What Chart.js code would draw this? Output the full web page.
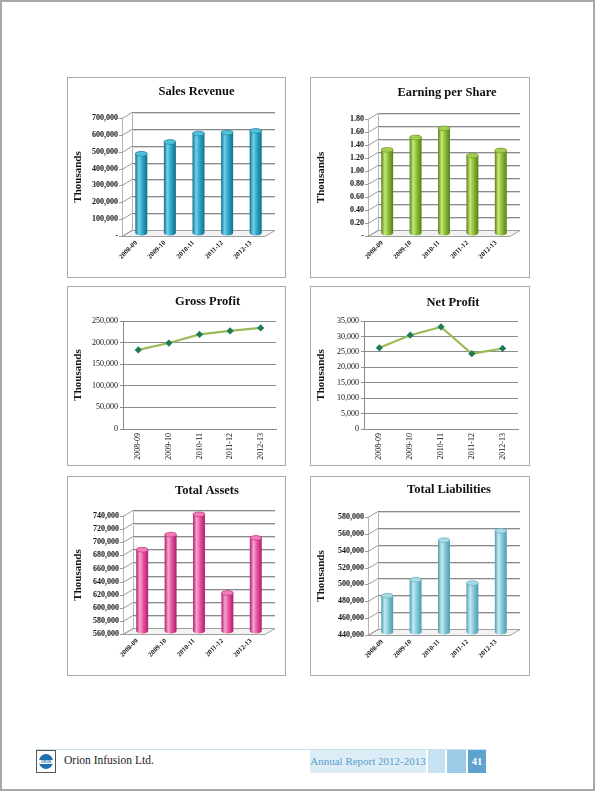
<!DOCTYPE html>
<html>
<head>
<meta charset="utf-8">
<script src="https://cdn.jsdelivr.net/npm/chart.js@4.4.1/dist/chart.umd.min.js"></script>
<style>
  html, body { margin: 0; padding: 0; background: #fff; }
  body { width: 595px; height: 791px; position: relative; overflow: hidden; font-family: 'Liberation Serif', 'DejaVu Serif', serif; }
  .page { position: absolute; left: 0; top: 0; width: 595px; height: 791px; box-sizing: border-box; border: 2px solid #a8a8a8; }
  .panel { position: absolute; box-sizing: border-box; border: 1px solid #a9a9a9; background: #fff; }
  .panel canvas { display: block; }
  .rule { position: absolute; left: 36px; top: 749px; width: 450px; height: 1px; background: #c7e1ef; }
  .logo { position: absolute; left: 36px; top: 750px; width: 20px; height: 23px; box-sizing: border-box; border: 1px solid #555; background: #fff; }
  .logo .disc { position: absolute; left: 2px; top: 3px; width: 14px; height: 15px; border-radius: 50%; background: #1d6fad; overflow: hidden; }
  .logo .band { position: absolute; left: 0; top: 5.5px; width: 14px; height: 4px; background: #fff; color: #1d6fad; font: bold 3px 'Liberation Sans', sans-serif; text-align: center; line-height: 4px; }
  .company { position: absolute; left: 64px; top: 754px; font-size: 11.5px; color: #222; white-space: nowrap; }
  .report { position: absolute; left: 310px; top: 750px; width: 116px; height: 23px; background: #dcedf7; color: #5a9ccb; font-size: 11px; line-height: 23px; text-align: center; white-space: nowrap; }
  .sq1 { position: absolute; left: 428px; top: 750px; width: 17px; height: 23px; background: #c6e1f1; }
  .sq2 { position: absolute; left: 447px; top: 750px; width: 19px; height: 23px; background: #9dcbe6; }
  .pageno { position: absolute; left: 468px; top: 750px; width: 18px; height: 23px; background: #5ea3cf; color: #fff; font-weight: bold; font-size: 10.5px; line-height: 23px; text-align: center; }
</style>
</head>
<body>
<div class="page"></div>

<div class="panel" id="p-sales"><canvas id="sales"></canvas></div>
<div class="panel" id="p-eps"><canvas id="eps"></canvas></div>
<div class="panel" id="p-gross"><canvas id="gross"></canvas></div>
<div class="panel" id="p-net"><canvas id="net"></canvas></div>
<div class="panel" id="p-assets"><canvas id="assets"></canvas></div>
<div class="panel" id="p-liab"><canvas id="liab"></canvas></div>

<div class="rule"></div>
<div class="logo"><div class="disc"><div class="band">ORION</div></div></div>
<div class="company">Orion Infusion Ltd.</div>
<div class="report">Annual Report 2012-2013</div>
<div class="sq1"></div>
<div class="sq2"></div>
<div class="pageno">41</div>

<script>
// data (values in thousands, EPS in taka)
const years = ['2008-09', '2009-10', '2010-11', '2011-12', '2012-13'];

const salesRevenue = [470000, 540000, 590000, 596000, 606000];
const earningPerShare = [1.28, 1.47, 1.61, 1.19, 1.27];
const grossProfit = [183000, 199000, 219000, 227000, 234000];
const netProfit = [26300, 30400, 33100, 24400, 26100];
const totalAssets = [684000, 707000, 738000, 618000, 702000];
const totalLiabilities = [483000, 502000, 549000, 498000, 560000];

// axis ranges [min, max, step]
const salesAxis = [0, 700000, 100000];
const epsAxis = [0, 1.8, 0.2];
const grossAxis = [0, 250000, 50000];
const netAxis = [0, 35000, 5000];
const assetsAxis = [560000, 740000, 20000];
const liabAxis = [440000, 580000, 20000];

const SERIF = "'Liberation Serif', 'DejaVu Serif', serif";
const GRID = '#8a8a8a';

const fmtThousands = v => v === 0 ? '-' : Number(v).toLocaleString('en-US');
const fmtDash2 = v => Math.abs(v) < 1e-9 ? '-' : Number(v).toFixed(2);
const fmtPlain = v => Number(v).toLocaleString('en-US');

// nudge the title sideways (the report centres it a little right of the plot)
const titleShift = {
  id: 'titleShift',
  afterLayout(chart, args, opts) {
    const t = chart.titleBlock;
    if (t && opts && opts.dx) { t.left += opts.dx; t.right += opts.dx; }
  }
};

// fake 3D walls + cylinder bars
const box3d = {
  id: 'box3d',
  beforeDatasetsDraw(chart, args, opts) {
    if (!opts || !opts.on) return;
    const { ctx, chartArea: a, scales: { y } } = chart;
    const dx = opts.dx, dy = opts.dy;
    ctx.save();
    ctx.lineWidth = 1;
    // floor
    ctx.beginPath();
    ctx.moveTo(a.left, a.bottom + 0.5);
    ctx.lineTo(a.right, a.bottom + 0.5);
    ctx.lineTo(a.right + dx, a.bottom + dy + 0.5);
    ctx.lineTo(a.left + dx, a.bottom + dy + 0.5);
    ctx.closePath();
    ctx.fillStyle = '#f2f2f2';
    ctx.fill();
    ctx.strokeStyle = '#a0a0a0';
    ctx.stroke();
    // left wall edges
    ctx.beginPath();
    ctx.moveTo(a.left + 0.5, a.top);
    ctx.lineTo(a.left + 0.5, a.bottom);
    ctx.moveTo(a.left + dx + 0.5, a.top + dy);
    ctx.lineTo(a.left + dx + 0.5, a.bottom + dy);
    ctx.strokeStyle = '#b5b5b5';
    ctx.stroke();
    // grid lines on the back wall
    y.ticks.forEach(t => {
      const py = Math.round(y.getPixelForValue(t.value)) + 0.5;
      ctx.beginPath();
      ctx.moveTo(a.left - 3, py);
      ctx.lineTo(a.left, py);
      ctx.lineTo(a.left + dx, py + dy);
      ctx.strokeStyle = '#9a9a9a';
      ctx.stroke();
      if (t.value !== y.min) {
        ctx.beginPath();
        ctx.moveTo(a.left + dx, py + dy);
        ctx.lineTo(a.right + dx, py + dy);
        ctx.strokeStyle = GRID;
        ctx.stroke();
        ctx.beginPath();
        ctx.moveTo(a.left + dx, py + dy + 1);
        ctx.lineTo(a.right + dx, py + dy + 1);
        ctx.strokeStyle = '#d8d8d8';
        ctx.stroke();
      }
    });
    ctx.restore();
  },
  afterDatasetsDraw(chart, args, opts) {
    if (!opts || !opts.on) return;
    const { ctx, chartArea: a } = chart;
    const c = opts.colors;
    const meta = chart.getDatasetMeta(0);
    ctx.save();
    meta.data.forEach(el => {
      const p = el.getProps(['x', 'y', 'base', 'width'], true);
      const cx = p.x + opts.dx / 2;
      const top = p.y + opts.dy / 2;
      const bot = Math.min(p.base, a.bottom) + opts.dy / 2;
      const rx = p.width / 2, ry = Math.max(2, p.width * 0.2);
      const g = ctx.createLinearGradient(cx - rx, 0, cx + rx, 0);
      g.addColorStop(0, c.dark);
      g.addColorStop(0.3, c.light);
      g.addColorStop(0.6, c.base);
      g.addColorStop(1, c.dark);
      ctx.beginPath();
      ctx.moveTo(cx - rx, top);
      ctx.lineTo(cx - rx, bot);
      ctx.ellipse(cx, bot, rx, ry, 0, Math.PI, 0, true);
      ctx.lineTo(cx + rx, top);
      ctx.ellipse(cx, top, rx, ry, 0, 0, Math.PI, true);
      ctx.closePath();
      ctx.fillStyle = g;
      ctx.fill();
      ctx.beginPath();
      ctx.ellipse(cx, top, rx, ry, 0, 0, Math.PI * 2);
      ctx.fillStyle = c.cap;
      ctx.fill();
      ctx.strokeStyle = c.dark;
      ctx.lineWidth = 0.5;
      ctx.stroke();
    });
    ctx.restore();
  }
};

function place(panelId, canvasId, box) {
  const p = document.getElementById(panelId);
  p.style.left = box.l + 'px';
  p.style.top = box.t + 'px';
  p.style.width = box.w + 'px';
  p.style.height = box.h + 'px';
  const cv = document.getElementById(canvasId);
  cv.width = box.w - 2;
  cv.height = box.h - 2;
  cv.style.width = (box.w - 2) + 'px';
  cv.style.height = (box.h - 2) + 'px';
  return cv;
}

function titleOpts(text, fs, cy, areaTop) {
  const lh = fs * 1.2;
  const top = cy - lh / 2;
  return {
    display: true,
    text: text,
    fullSize: false,
    color: '#111',
    font: { family: SERIF, size: fs, weight: 'bold', lineHeight: 1.2 },
    padding: { top: top, bottom: areaTop - top - lh }
  };
}

function barChart(cfg) {
  const cv = place(cfg.panel, cfg.id, cfg.box);
  const W = cv.width, H = cv.height, A = cfg.area;
  return new Chart(cv, {
    type: 'bar',
    data: {
      labels: years,
      datasets: [{
        data: cfg.values,
        base: cfg.axis[0],
        backgroundColor: 'rgba(0,0,0,0)',
        borderWidth: 0,
        barPercentage: 0.7,
        categoryPercentage: 0.6
      }]
    },
    options: {
      responsive: false,
      animation: false,
      events: [],
      layout: { padding: { left: 0, right: W - A.right, top: 0, bottom: 0 } },
      plugins: {
        legend: { display: false },
        tooltip: { enabled: false },
        title: titleOpts(cfg.title, 12.5, cfg.titleY, A.top),
        titleShift: { dx: cfg.titleDx },
        box3d: { on: true, dx: 10, dy: -6, colors: cfg.colors }
      },
      scales: {
        x: {
          grid: { display: false, drawTicks: false },
          border: { display: false },
          ticks: {
            color: '#111',
            font: { family: SERIF, size: 6.8, weight: 'bold' },
            minRotation: 45, maxRotation: 45, padding: 3
          },
          afterFit: s => { s.height = H - A.bottom; }
        },
        y: {
          min: cfg.axis[0], max: cfg.axis[1],
          grid: { display: false, drawTicks: false },
          border: { display: false },
          ticks: {
            stepSize: cfg.axis[2],
            color: '#111',
            padding: 4,
            font: { family: SERIF, size: 8, weight: 'bold' },
            callback: cfg.fmt
          },
          title: {
            display: true, text: 'Thousands', color: '#111',
            font: { family: SERIF, size: 11, weight: 'bold' },
            padding: { top: 4, bottom: 0 }
          },
          afterFit: s => { s.width = A.left; }
        }
      }
    },
    plugins: [box3d, titleShift]
  });
}

function lineChart(cfg) {
  const cv = place(cfg.panel, cfg.id, cfg.box);
  const W = cv.width, H = cv.height, A = cfg.area;
  return new Chart(cv, {
    type: 'line',
    data: {
      labels: years,
      datasets: [{
        data: cfg.values,
        borderColor: '#9bbb59',
        borderWidth: 2.2,
        tension: 0,
        pointStyle: 'rectRot',
        pointRadius: 3.6,
        pointBackgroundColor: '#1f7b57',
        pointBorderColor: '#1f7b57',
        pointBorderWidth: 0
      }]
    },
    options: {
      responsive: false,
      animation: false,
      events: [],
      layout: { padding: { left: 0, right: W - A.right, top: 0, bottom: 0 } },
      plugins: {
        legend: { display: false },
        tooltip: { enabled: false },
        title: titleOpts(cfg.title, 12.5, cfg.titleY, A.top),
        titleShift: { dx: cfg.titleDx }
      },
      scales: {
        x: {
          offset: true,
          grid: { display: false, drawTicks: false },
          border: { display: true, color: GRID },
          ticks: {
            color: '#111',
            font: { family: SERIF, size: 8 },
            minRotation: 90, maxRotation: 90, padding: 4
          },
          afterFit: s => { s.height = H - A.bottom; }
        },
        y: {
          min: cfg.axis[0], max: cfg.axis[1],
          grid: { color: GRID, tickLength: 3 },
          border: { display: true, color: GRID },
          ticks: {
            stepSize: cfg.axis[2],
            color: '#111',
            padding: 2,
            font: { family: SERIF, size: 8 },
            callback: fmtPlain
          },
          title: {
            display: true, text: 'Thousands', color: '#111',
            font: { family: SERIF, size: 11, weight: 'bold' },
            padding: { top: 4, bottom: 0 }
          },
          afterFit: s => { s.width = A.left; }
        }
      }
    },
    plugins: [titleShift]
  });
}

barChart({
  panel: 'p-sales', id: 'sales', title: 'Sales Revenue', titleY: 14, titleDx: 3,
  box: { l: 67, t: 77, w: 219, h: 201 },
  area: { left: 54, right: 197, top: 40, bottom: 158 },
  values: salesRevenue, axis: salesAxis, fmt: fmtThousands,
  colors: { base: '#2ba6c6', light: '#72d2e8', dark: '#146f88', cap: '#52bfda' }
});

barChart({
  panel: 'p-eps', id: 'eps', title: 'Earning per Share', titleY: 15, titleDx: 8,
  box: { l: 310, t: 77, w: 220, h: 201 },
  area: { left: 57, right: 199, top: 41, bottom: 158 },
  values: earningPerShare, axis: epsAxis, fmt: fmtDash2,
  colors: { base: '#8cbd33', light: '#c8e87c', dark: '#5a7e19', cap: '#a4cf52' }
});

lineChart({
  panel: 'p-gross', id: 'gross', title: 'Gross Profit', titleY: 15, titleDx: 8,
  box: { l: 67, t: 286, w: 219, h: 180 },
  area: { left: 55, right: 208, top: 34, bottom: 142 },
  values: grossProfit, axis: grossAxis
});

lineChart({
  panel: 'p-net', id: 'net', title: 'Net Profit', titleY: 16, titleDx: 12,
  box: { l: 310, t: 286, w: 220, h: 180 },
  area: { left: 53, right: 207, top: 34, bottom: 142 },
  values: netProfit, axis: netAxis
});

barChart({
  panel: 'p-assets', id: 'assets', title: 'Total Assets', titleY: 14, titleDx: 13,
  box: { l: 67, t: 476, w: 219, h: 200 },
  area: { left: 55, right: 197, top: 39, bottom: 157 },
  values: totalAssets, axis: assetsAxis, fmt: fmtPlain,
  colors: { base: '#e9519f', light: '#f7a6d0', dark: '#ae1f6b', cap: '#f07cb8' }
});

barChart({
  panel: 'p-liab', id: 'liab', title: 'Total Liabilities', titleY: 13, titleDx: 10,
  box: { l: 310, t: 476, w: 220, h: 200 },
  area: { left: 57, right: 199, top: 40, bottom: 158 },
  values: totalLiabilities, axis: liabAxis, fmt: fmtPlain,
  colors: { base: '#84c9d8', light: '#c6ebf3', dark: '#4b9caf', cap: '#a5dbe6' }
});
</script>
</body>
</html>
